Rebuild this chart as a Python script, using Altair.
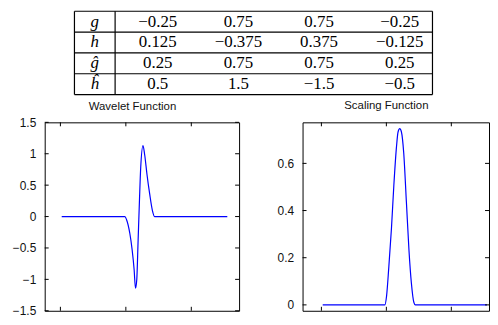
import altair as alt
import pandas as pd

# ---- table values ----
row_labels = ["g", "h", "ĝ", "ĥ"]
g_vals = [-0.25, 0.75, 0.75, -0.25]
h_vals = [0.125, -0.375, 0.375, -0.125]
ghat_vals = [0.25, 0.75, 0.75, 0.25]
hhat_vals = [0.5, 1.5, -1.5, -0.5]

# ---- curves ----
wave_x = [0.02, 0.985, 1.011, 1.061, 1.095, 1.126, 1.147, 1.167, 1.186, 1.208,
          1.227, 1.262, 1.288, 1.323, 1.364, 1.405, 1.439, 2.55]
wave_y = [0, 0, -0.05, -0.27, -0.52, -0.84, -1.14, -1.0, -0.42, 0.26,
          0.78, 1.13, 0.98, 0.67, 0.36, 0.10, 0, 0]

scale_x = [0.02, 0.977, 1.003, 1.038, 1.079, 1.115, 1.156, 1.180, 1.206, 1.232,
           1.267, 1.308, 1.348, 1.385, 1.424, 1.446, 2.55]
scale_y = [0, 0, 0.037, 0.161, 0.327, 0.506, 0.671, 0.733, 0.747, 0.733,
           0.645, 0.438, 0.232, 0.093, 0.010, 0, 0]

x_ticks = [0, 1, 2]
wave_yticks = [-1.5, -1, -0.5, 0, 0.5, 1, 1.5]
scale_yticks = [0, 0.2, 0.4, 0.6]

W1, W2, H = 196, 188, 190
TW, TH = 391, 84
SERIF = "Liberation Serif, Times New Roman, serif"
SANS = "Liberation Sans, Arial, sans-serif"
NOPAD = {"left": 0, "right": 0, "top": 0, "bottom": 0}

# ---- table ----
value_rows = [g_vals, h_vals, ghat_vals, hhat_vals]
cells = pd.DataFrame([
    {"col": c + 1, "row": r + 0.5, "val": v}
    for r, vals in enumerate(value_rows) for c, v in enumerate(vals)
])
labels = pd.DataFrame({"col": [0] * 4, "row": [r + 0.5 for r in range(4)], "lab": row_labels})
hlines = pd.DataFrame({"x1": [-0.5] * 5, "x2": [4.5] * 5, "y": [0, 1, 2, 3, 4]})
vlines = pd.DataFrame({"x": [-0.5, 0.5, 4.5], "y1": [0] * 3, "y2": [4] * 3})

tx = alt.Scale(domain=[-0.5, 0.5, 1, 4, 4.5], range=[30, 71, 114, 358, TW])
ty = alt.Scale(domain=[0, 4], range=[0, TH])

t_text = alt.Chart(cells).mark_text(font=SERIF, fontSize=17, color="black",
                                    baseline="middle", align="center").encode(
    x=alt.X("col:Q", scale=tx, axis=None),
    y=alt.Y("row:Q", scale=ty, axis=None),
    text=alt.Text("val:Q", format="~g"),
)
t_lab = alt.Chart(labels).mark_text(font=SERIF, fontSize=17, fontStyle="italic",
                                    color="black", baseline="middle", align="center").encode(
    x=alt.X("col:Q", scale=tx, axis=None),
    y=alt.Y("row:Q", scale=ty, axis=None),
    text="lab:N",
)
t_h = alt.Chart(hlines).mark_rule(color="black", strokeWidth=1.2).encode(
    x=alt.X("x1:Q", scale=tx, axis=None), x2="x2:Q",
    y=alt.Y("y:Q", scale=ty, axis=None),
)
t_v = alt.Chart(vlines).mark_rule(color="black", strokeWidth=1.2).encode(
    x=alt.X("x:Q", scale=tx, axis=None),
    y=alt.Y("y1:Q", scale=ty, axis=None), y2="y2:Q",
)
table = alt.layer(t_h, t_v, t_text, t_lab).properties(
    width=TW, height=TH, view=alt.ViewBackground(stroke="transparent"))


def panel(xs, ys, xdom, ydom, yticks, title, ext, toff, W):
    df = pd.DataFrame({"x": xs, "y": ys})
    xsc = alt.Scale(domain=xdom, nice=False, zero=False)
    ysc = alt.Scale(domain=ydom, nice=False, zero=False)
    yax = alt.Axis(values=yticks, format="~g", ticks=False, domain=False, grid=False,
                   labelPadding=9, labelFont=SANS, labelFontSize=12,
                   labelColor="#111", minExtent=ext, maxExtent=ext, title=None)
    line = alt.Chart(df).mark_line(color="#0000ff", strokeWidth=1.2, interpolate="monotone").encode(
        x=alt.X("x:Q", scale=xsc, axis=None),
        y=alt.Y("y:Q", scale=ysc, axis=yax),
    )
    xt = pd.DataFrame({"t": x_ticks})
    yt = pd.DataFrame({"v": yticks})
    bot = alt.Chart(xt).mark_rule(color="black").encode(
        x=alt.X("t:Q", scale=xsc, axis=None), y=alt.value(H - 4), y2=alt.value(H))
    top = alt.Chart(xt).mark_rule(color="black").encode(
        x=alt.X("t:Q", scale=xsc, axis=None), y=alt.value(0), y2=alt.value(4))
    lef = alt.Chart(yt).mark_rule(color="black").encode(
        y=alt.Y("v:Q", scale=ysc, axis=yax), x=alt.value(0), x2=alt.value(4))
    rig = alt.Chart(yt).mark_rule(color="black").encode(
        y=alt.Y("v:Q", scale=ysc, axis=yax), x=alt.value(W - 4), x2=alt.value(W))
    return alt.layer(line, bot, top, lef, rig).properties(
        width=W, height=H,
        title=alt.TitleParams(title, font=SANS, fontSize=11.5, fontWeight="normal",
                              color="#111", offset=toff, dx=-9.5, anchor="middle", frame="group"),
    )


left = panel(wave_x, wave_y, [-0.24, 2.73], [-1.5, 1.5], wave_yticks, "Wavelet Function", 36, 4, W1)
right = panel(scale_x, scale_y, [-0.29, 2.58], [-0.025, 0.774], scale_yticks, "Scaling Function", 30, 10, W2)

chart = alt.vconcat(table, alt.hconcat(left, right, spacing=32), spacing=3).properties(
    padding=NOPAD
).configure(padding=NOPAD).configure_view(stroke="black", strokeWidth=1)

chart.save("out.html", embed_options={"renderer": "svg", "actions": False, "padding": NOPAD})
